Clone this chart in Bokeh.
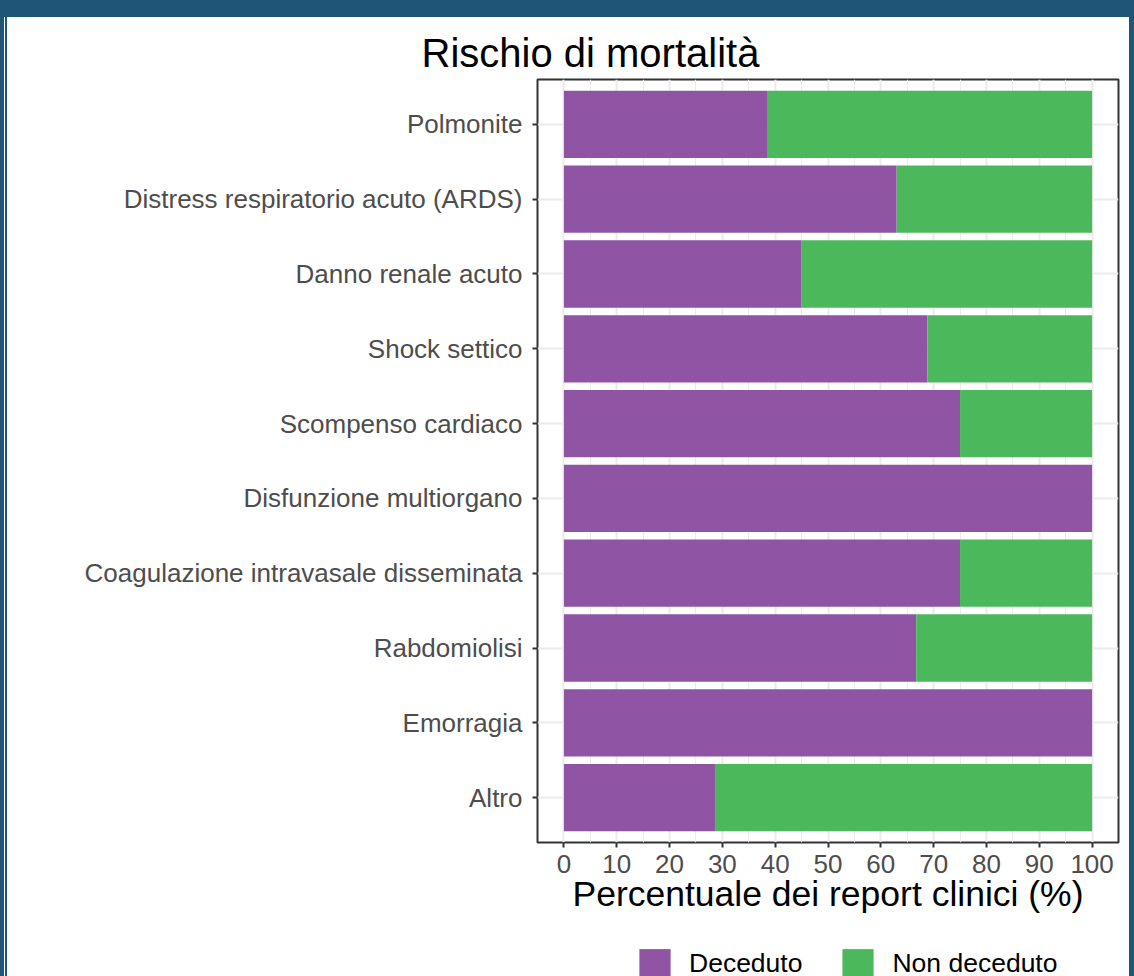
from bokeh.plotting import figure
from bokeh.models import Range1d, FixedTicker, Legend, LegendItem, Div
from bokeh.layouts import column, row
from bokeh.embed import file_html
from bokeh.resources import INLINE

categories = [
    "Polmonite",
    "Distress respiratorio acuto (ARDS)",
    "Danno renale acuto",
    "Shock settico",
    "Scompenso cardiaco",
    "Disfunzione multiorgano",
    "Coagulazione intravasale disseminata",
    "Rabdomiolisi",
    "Emorragia",
    "Altro",
]
deceduto = [38.6, 63.0, 45.0, 68.8, 75.0, 100.0, 75.0, 66.7, 100.0, 28.6]
non_deceduto = [61.4, 37.0, 55.0, 31.2, 25.0, 0.0, 25.0, 33.3, 0.0, 71.4]
x_ticks = [0, 10, 20, 30, 40, 50, 60, 70, 80, 90, 100]
x_minor = [5, 15, 25, 35, 45, 55, 65, 75, 85, 95]
series_names = ["Deceduto", "Non deceduto"]
colors = ["#8F55A4", "#4BB95B"]
FRAME_BLUE = "#1F5678"

FONT = "Liberation Sans"
n = len(categories)
ypos = [n - i for i in range(n)]
total = [d + nd for d, nd in zip(deceduto, non_deceduto)]

MAIN_H = 923
LEG_H = 36

p = figure(
    width=1122, height=MAIN_H,
    x_range=Range1d(-5, 105), y_range=Range1d(0.4, n + 0.6),
    output_backend="svg", toolbar_location=None,
    min_border_left=530, min_border_right=11, min_border_top=62, min_border_bottom=98,
)

r1 = p.hbar(y=ypos, left=0, right=deceduto, height=0.9, fill_color=colors[0], line_color=None)
r2 = p.hbar(y=ypos, left=deceduto, right=total, height=0.9, fill_color=colors[1], line_color=None)

p.background_fill_color = "white"
p.border_fill_color = "white"
p.outline_line_color = "#333333"
p.outline_line_width = 2

# title
p.title.text = "Rischio di mortalità"
p.title.text_font = FONT
p.title.text_font_size = "40px"
p.title.text_font_style = "normal"
p.title.text_color = "black"
p.title.align = "left"
p.title.offset = -116
p.title.standoff = 10

# axes
xt = FixedTicker(ticks=x_ticks, minor_ticks=x_minor)
p.xaxis.ticker = xt
p.xgrid.ticker = xt
yt = FixedTicker(ticks=ypos)
p.yaxis.ticker = yt
p.ygrid.ticker = yt
p.yaxis.major_label_overrides = {y: c for y, c in zip(ypos, categories)}

for ax in (p.xaxis[0], p.yaxis[0]):
    ax.axis_line_color = None
    ax.major_tick_line_color = "#333333"
    ax.major_tick_line_width = 2
    ax.major_tick_out = 5
    ax.major_tick_in = 0
    ax.minor_tick_line_color = None
    ax.major_label_text_font = FONT
    ax.major_label_text_font_size = "26px"
    ax.major_label_text_color = "#4D4D4D"
p.yaxis.major_label_standoff = 10
p.xaxis.major_label_standoff = 7

p.xaxis.axis_label = "Percentuale dei report clinici (%)"
p.xaxis.axis_label_text_font = FONT
p.xaxis.axis_label_text_font_size = "35.5px"
p.xaxis.axis_label_text_font_style = "normal"
p.xaxis.axis_label_text_color = "black"
p.xaxis.axis_label_standoff = -2

p.xgrid.grid_line_color = "#EBEBEB"
p.xgrid.grid_line_width = 2
p.xgrid.minor_grid_line_color = "#EBEBEB"
p.xgrid.minor_grid_line_width = 1
p.ygrid.grid_line_color = "#EBEBEB"
p.ygrid.grid_line_width = 2

# legend strip (separate figure below; its frame is aligned with the main frame)
pl = figure(
    width=1122, height=LEG_H, output_backend="svg", toolbar_location=None,
    title=None, x_axis_location=None, y_axis_location=None,
    min_border_left=0, min_border_right=0, min_border_top=0, min_border_bottom=0,
    x_range=Range1d(-5, 105), y_range=Range1d(0.4, n + 0.6),
)
pl.outline_line_color = None
pl.background_fill_color = "white"
pl.border_fill_color = "white"
pl.xgrid.visible = False
pl.ygrid.visible = False
# same series, hidden in this strip: they only feed the legend swatches
l1 = pl.hbar(y=ypos, left=0, right=deceduto, height=0.9, fill_color=colors[0], line_color=None, visible=False)
l2 = pl.hbar(y=ypos, left=deceduto, right=total, height=0.9, fill_color=colors[1], line_color=None, visible=False)

legend = Legend(
    items=[LegendItem(label=series_names[0], renderers=[l1]),
           LegendItem(label=series_names[1], renderers=[l2])],
    orientation="horizontal",
    location=(98, -5),
    padding=0, margin=0, spacing=36,
    label_standoff=15, glyph_width=39, glyph_height=36, label_height=36,
    label_text_font=FONT, label_text_font_size="26.5px", label_text_color="black",
    border_line_color=None, background_fill_alpha=0,
    inactive_fill_alpha=0,
)
pl.add_layout(legend, "center")

band = Div(text="", width=1134, height=17, margin=0,
           styles={"background-color": FRAME_BLUE})
left_strip = Div(text="", width=7, height=MAIN_H + LEG_H, margin=0,
                 styles={"background": "linear-gradient(to right, %s 0px, %s 4px, white 4px, white 5px, %s 5px, %s 7px)"
                         % (FRAME_BLUE, FRAME_BLUE, FRAME_BLUE, FRAME_BLUE)})
right_strip = Div(text="", width=5, height=MAIN_H + LEG_H, margin=0,
                  styles={"background-color": FRAME_BLUE})
layout = column(band, row(left_strip, column(p, pl, spacing=0), right_strip, spacing=0), spacing=0)

open("out.html", "w").write(file_html(layout, INLINE))
